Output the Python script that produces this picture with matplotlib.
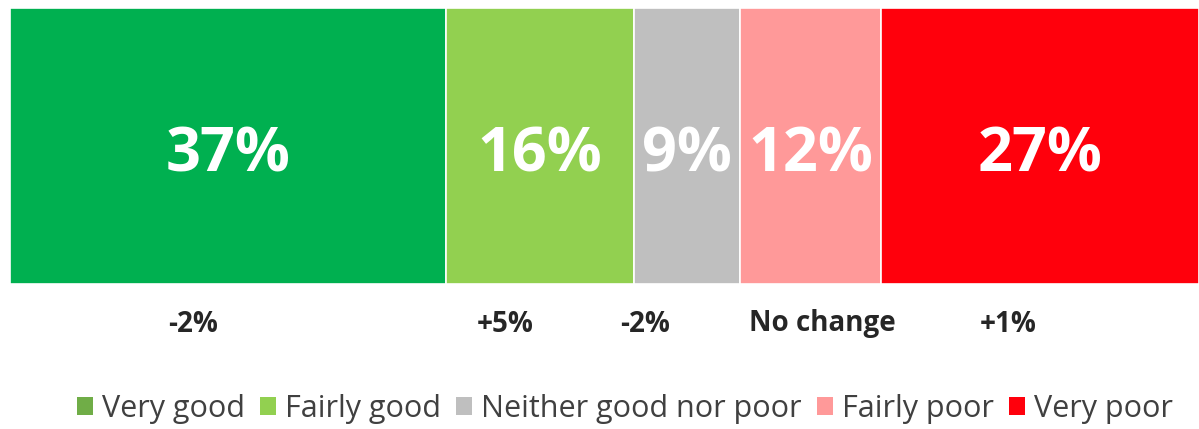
import matplotlib
matplotlib.use("Agg")
import matplotlib.pyplot as plt
from matplotlib.patches import Patch
from matplotlib.transforms import blended_transform_factory

categories = ["Very good", "Fairly good", "Neither good nor poor", "Fairly poor", "Very poor"]
values = [37, 16, 9, 12, 27]
bar_colors = ["#00B050", "#92D050", "#BFBFBF", "#FF9999", "#FF000C"]
legend_colors = ["#70AD47", "#92D050", "#BFBFBF", "#FF9999", "#FF000C"]
change_labels = ["-2%", "+5%", "-2%", "No change", "+1%"]
change_label_x = [15.55, 42.05, 53.94, 68.98, 84.78]

plt.rcParams['font.family'] = ['Open Sans', 'DejaVu Sans']

fig = plt.figure(figsize=(11.99, 4.29), dpi=100)
ax = fig.add_axes([10/1199, 1 - 284/429, 1189/1199, 276/429])

left = 0
for cat, v, c in zip(categories, values, bar_colors):
    ax.barh(0, v, left=left, height=1.0, color=c, edgecolor="white", linewidth=1.2)
    ax.text(left + v / 2, -0.035, f"{v}%", ha="center", va="center", color="white",
            fontsize=44, fontweight="bold")
    left += v

ax.set_xlim(0, sum(values))
ax.set_ylim(-0.5, 0.5)
ax.axis("off")

trans = blended_transform_factory(ax.transData, fig.transFigure)
for x, lab in zip(change_label_x, change_labels):
    ax.text(x, 1 - 324/429, lab, transform=trans, ha="center", va="center",
            fontsize=20, fontweight="bold", color="#262626")

handles = [Patch(facecolor=c, edgecolor="none") for c in legend_colors]
leg = fig.legend(handles, categories, loc="center", bbox_to_anchor=(625/1199, 1 - 409/429),
                 ncol=5, frameon=False, fontsize=22, handlelength=0.52, handleheight=0.52,
                 handletextpad=0.3, columnspacing=0.5, borderaxespad=0, borderpad=0)
for t in leg.get_texts():
    t.set_color("#404040")

fig.savefig("out.png", dpi=100)
